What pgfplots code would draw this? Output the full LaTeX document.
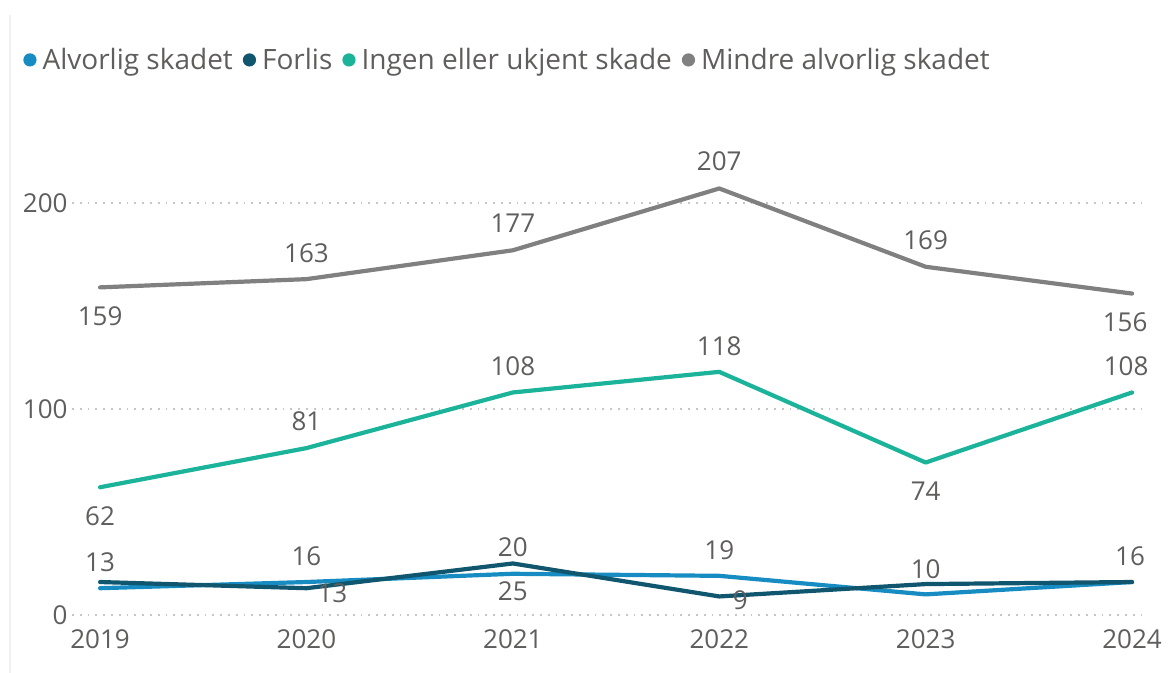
\documentclass[border=0pt]{standalone}
\usepackage{fontspec}
\setmainfont{Open Sans}
\usepackage{pgfplots}
\pgfplotsset{compat=1.18}
\usepackage{pgfplotstable}

\definecolor{alv}{HTML}{168CC2}
\definecolor{forlis}{HTML}{11566F}
\definecolor{ingen}{HTML}{1BB39A}
\definecolor{mindre}{HTML}{808080}
\definecolor{txt}{HTML}{605E5C}
\definecolor{gridc}{HTML}{C8C6C4}

% columns: year, value, label text, label shift x / y (pt)
\pgfplotstableread{
x y lab dx dy
2019 13 13 0 13
2020 16 16 0 13
2021 20 20 0 13.5
2022 19 19 0 13
2023 10 10 0 12.5
2024 16 16 -1 13
}\alvorlig
\pgfplotstableread{
x y lab dx dy
2019 16 {} 0 0
2020 13 13 13 -2.5
2021 25 25 0 -14
2022 9 9 10.5 -2
2023 15 {} 0 0
2024 16 {} 0 0
}\forlis
\pgfplotstableread{
x y lab dx dy
2019 62 62 0 -14.5
2020 81 81 0 13.5
2021 108 108 0 13
2022 118 118 0 13
2023 74 74 0 -14.5
2024 108 108 -3 13
}\ingen
\pgfplotstableread{
x y lab dx dy
2019 159 159 0 -14.5
2020 163 163 0 13
2021 177 177 0 13.5
2022 207 207 0 13.5
2023 169 169 0 13.5
2024 156 156 -3.5 -14.5
}\mindre

\begin{document}
\begin{tikzpicture}
\useasboundingbox (-36pt,-29pt) rectangle (548pt,307.5pt);
\draw[gray!12, line width=1pt] (-31pt,-29pt) -- (-31pt,300pt);
\begin{axis}[
    scale only axis,
    width=535.5pt, height=221.5pt,
    xmin=2018.864, xmax=2024.053,
    ymin=0, ymax=215,
    clip=false,
    axis line style={draw=none},
    tick style={draw=none},
    xtick={2019,2020,2021,2022,2023,2024},
    ytick={0,100,200},
    ymajorgrids,
    grid style={gridc, line width=0.9pt, dash pattern=on 0.9pt off 3pt},
    /pgf/number format/assume math mode=true,
    /pgf/number format/1000 sep={},
    tick label style={font=\fontsize{13}{15}\selectfont, text=txt},
    yticklabel style={xshift=1.3pt},
    xticklabel style={yshift=-4pt},
    every axis plot/.append style={line width=2.1pt, line join=round, line cap=round},
    point meta=explicit symbolic,
    nodes near coords,
    visualization depends on={\thisrow{dx} \as \ldx},
    visualization depends on={\thisrow{dy} \as \ldy},
    nodes near coords style={anchor=center, font=\fontsize{13}{15}\selectfont,
        text=txt, xshift=\ldx pt, yshift=\ldy pt},
    legend columns=-1,
    legend style={at={(-0.0458,1.253)}, anchor=west, draw=none, fill=none,
        inner sep=0pt, font=\fontsize{14}{16}\selectfont, text=txt,
        nodes={inner xsep=3pt, inner ysep=1pt},
        /tikz/every even column/.append style={column sep=2pt}},
    legend image code/.code={\fill[draw=none] (3.3pt,0pt) circle (3.3pt);},
]
\addplot[alv] table[x=x, y=y, meta=lab] {\alvorlig};
\addlegendentry{Alvorlig skadet}
\addplot[forlis] table[x=x, y=y, meta=lab] {\forlis};
\addlegendentry{Forlis}
\addplot[ingen] table[x=x, y=y, meta=lab] {\ingen};
\addlegendentry{Ingen eller ukjent skade}
\addplot[mindre] table[x=x, y=y, meta=lab] {\mindre};
\addlegendentry{Mindre alvorlig skadet}
\end{axis}
\end{tikzpicture}
\end{document}
